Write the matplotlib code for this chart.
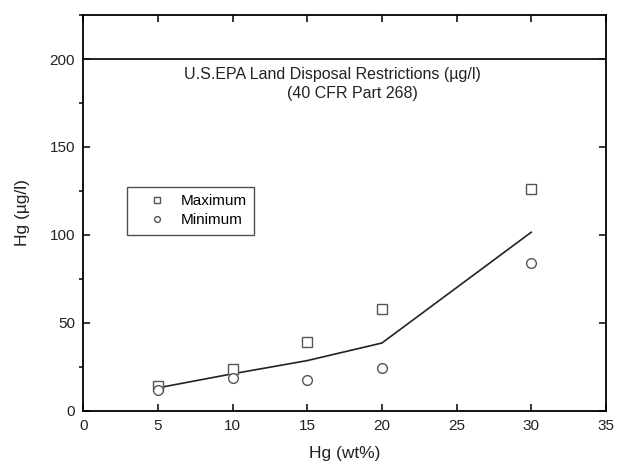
import matplotlib.pyplot as plt
from matplotlib.ticker import MultipleLocator

plt.rcParams['font.family'] = ['Liberation Sans', 'DejaVu Sans']

hg_wt = [5, 10, 15, 20, 30]
hg_max = [14, 23.5, 39, 58, 126]
hg_min = [12, 18.5, 17.5, 24.5, 84]
hg_fit = [13, 21, 28.5, 38.5, 101.5]
epa_limit = 200

fig = plt.figure(figsize=(6.17, 4.71), dpi=100)
ax = fig.add_axes([0.135, 0.128, 0.847, 0.840])

ax.plot(hg_wt, hg_fit, color='#222222', lw=1.2)
ax.plot(hg_wt, hg_max, ls='none', marker='s', ms=6.5, mfc='white', mec='#555555', mew=1.0, label='Maximum')
ax.plot(hg_wt, hg_min, ls='none', marker='o', ms=7, mfc='white', mec='#555555', mew=1.0, label='Minimum')
ax.axhline(epa_limit, color='#111111', lw=1.3)

ax.text(16.7, 191, 'U.S.EPA Land Disposal Restrictions (\u00b5g/l)', ha='center', va='center',
        fontsize=11.5, color='#222222')
ax.text(18.0, 180.5, '(40 CFR Part 268)', ha='center', va='center', fontsize=11.5, color='#222222')

ax.set_xlim(0, 35)
ax.set_ylim(0, 225)
ax.xaxis.set_major_locator(MultipleLocator(5))
ax.yaxis.set_major_locator(MultipleLocator(50))
ax.yaxis.set_minor_locator(MultipleLocator(25))
ax.tick_params(axis='both', which='both', direction='out', labelsize=11, width=1.1, pad=6,
               labelcolor='#222222')
ax.tick_params(which='major', length=5)
ax.tick_params(which='minor', length=3)
ax.tick_params(top=True, right=True, which='major', direction='in')
ax.tick_params(axis='y', which='minor', right=False)
for s in ax.spines.values():
    s.set_linewidth(1.3)

ax.set_xlabel('Hg (wt%)', fontsize=12.5, labelpad=9, color='#222222')
ax.set_ylabel('Hg (\u00b5g/l)', fontsize=12.5, labelpad=14, color='#222222')

leg = ax.legend(loc='upper left', bbox_to_anchor=(0.084, 0.566), frameon=True, fancybox=False,
                edgecolor='#222222', fontsize=11, handletextpad=0.1, borderpad=0.5,
                labelspacing=0.3, handlelength=2.9, borderaxespad=0, markerscale=0.6)
leg.get_frame().set_linewidth(1.0)

fig.savefig('out.png', dpi=100)
